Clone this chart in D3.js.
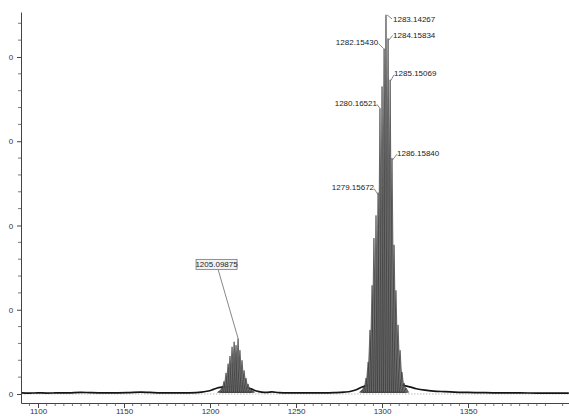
<!DOCTYPE html>
<html><head><meta charset="utf-8">
<script src="https://cdn.jsdelivr.net/npm/d3@7"></script>
<style>
body{margin:0;background:#fff}
svg{display:block}
text{font-family:"Liberation Sans",Arial,sans-serif}
</style>
</head><body>
<svg id="c" width="569" height="416"></svg>
<script>
// ---------- data ----------
const xTickValues = [1100, 1150, 1200, 1250, 1300, 1350];
const xTickLabels = ["1100", "1150", "1200", "1250", "1300", "1350"];
const yTickValues = [0, 1, 2, 3, 4];
const yTickLabels = ["0", "0", "0", "0", "0"];

// main isotope cluster (axis position, intensity)
const bigMz  = [1288.4, 1289.5, 1290.7, 1291.9, 1293.0, 1294.2, 1295.3, 1296.5, 1297.7, 1298.8, 1300.0, 1301.2,
                1302.3, 1303.5, 1304.7, 1305.8, 1307.0, 1308.1, 1309.3, 1310.5, 1311.6, 1312.8, 1314.0];
const bigInt = [0.05, 0.09, 0.19, 0.38, 0.76, 1.29, 1.85, 2.12, 2.39, 3.39, 3.65, 4.10,
                4.50, 4.22, 3.73, 2.80, 1.77, 1.23, 0.82, 0.52, 0.26, 0.13, 0.07];

// small cluster
const smallMz  = [1205.8, 1207.0, 1208.1, 1209.3, 1210.5, 1211.6, 1212.8, 1214.0, 1215.1, 1216.3, 1217.4,
                  1218.6, 1219.8, 1220.9, 1222.1, 1223.3, 1224.4];
const smallInt = [0.04, 0.08, 0.15, 0.25, 0.36, 0.45, 0.56, 0.62, 0.58, 0.66, 0.52,
                  0.40, 0.28, 0.19, 0.12, 0.07, 0.04];

// baseline trace
const baseMz  = [1090.2, 1095, 1100, 1105, 1110, 1118, 1125, 1130, 1138, 1145, 1152, 1160, 1165, 1172, 1180,
                 1188, 1195, 1199, 1202, 1205, 1210, 1215, 1220, 1224, 1227, 1230, 1233, 1236, 1240, 1248,
                 1256, 1264, 1272, 1278, 1282, 1285, 1288, 1291, 1300, 1310, 1313, 1316, 1320, 1325, 1330,
                 1336, 1342, 1350, 1360, 1370, 1380, 1390, 1400, 1408.6];
const baseInt = [0.012, 0.010, 0.013, 0.011, 0.012, 0.014, 0.020, 0.016, 0.012, 0.013, 0.015, 0.022, 0.018, 0.013, 0.012,
                 0.014, 0.022, 0.035, 0.055, 0.075, 0.085, 0.088, 0.080, 0.060, 0.035, 0.022, 0.018, 0.026, 0.016, 0.013,
                 0.012, 0.013, 0.016, 0.022, 0.032, 0.050, 0.080, 0.100, 0.110, 0.112, 0.100, 0.085, 0.062, 0.045, 0.035,
                 0.028, 0.022, 0.018, 0.015, 0.013, 0.012, 0.011, 0.010, 0.010];

// peak labels
const labelTexts  = ["1283.14267", "1284.15834", "1282.15430", "1285.15069", "1280.16521", "1286.15840", "1279.15672", "1205.09875"];
const labelSeries = ["big", "big", "big", "big", "big", "big", "big", "small"];
const labelIndex  = [12, 13, 11, 14, 9, 15, 8, 9];

// ---------- layout / style ----------
const W = 569, H = 416;
const L = 21, R = 569, T = 12, B = 403;
const labelLayout = [
  {dx: 7, dy: 5, anchor: "start", lx0: 1, ly0: 0, lx1: 6, ly1: 4},
  {dx: 5, dy: -3, anchor: "start", lx0: 0.5, ly0: 2, lx1: 4.5, ly1: -3},
  {dx: -6, dy: -6, anchor: "end", lx0: -0.5, ly0: 0, lx1: -5.5, ly1: -5},
  {dx: 4, dy: -6, anchor: "start", lx0: 0.5, ly0: 1, lx1: 4, ly1: -5},
  {dx: -3, dy: -5, anchor: "end", lx0: 0, ly0: 0, lx1: -3, ly1: -4},
  {dx: 5, dy: -5, anchor: "start", lx0: 0.5, ly0: 2, lx1: 5, ly1: -4},
  {dx: -4, dy: -5, anchor: "end", lx0: 0, ly0: 2, lx1: -4, ly1: -4},
  {dx: -21.5, dy: -74, anchor: "middle", box: true, lx0: 0, ly0: 0, lx1: -20, ly1: -69}
];

const svg = d3.select("#c");
svg.append("rect").attr("width", W).attr("height", H).attr("fill", "#fff");

const x = d3.scaleLinear().domain([1090.1, 1408.7]).range([L, R]);
const y = d3.scaleLinear().domain([-0.107, 4.534]).range([B, T]);

// zero line (dotted)
svg.append("line")
  .attr("x1", L).attr("x2", R).attr("y1", y(0)).attr("y2", y(0))
  .attr("stroke", "#aaa").attr("stroke-width", 0.8).attr("stroke-dasharray", "1.5,1.5");

// baseline trace
const baseData = baseMz.map((m, i) => [m, baseInt[i]]);
svg.append("path")
  .datum(baseData)
  .attr("fill", "none").attr("stroke", "#151515").attr("stroke-width", 1.7)
  .attr("d", d3.line().x(d => x(d[0])).y(d => y(d[1])).curve(d3.curveMonotoneX));

// peaks
const halfW = 1.45;
function peaks(mz, inten, cls) {
  const data = mz.map((m, i) => ({m, v: inten[i]}));
  svg.append("g").attr("class", cls).selectAll("path").data(data).join("path")
    .attr("d", d => `M${x(d.m - halfW)},${y(0.02)}L${x(d.m)},${y(d.v)}L${x(d.m + halfW)},${y(0.02)}Z`)
    .attr("fill", "#6a6a6a").attr("fill-opacity", 0.85)
    .attr("stroke", "#2a2a2a").attr("stroke-width", 0.6).attr("stroke-linejoin", "miter");
  return data;
}
const bigData = peaks(bigMz, bigInt, "big");
const smallData = peaks(smallMz, smallInt, "small");

// axes
const xAxis = d3.axisBottom(x).tickValues(xTickValues)
  .tickFormat((d, i) => xTickLabels[i]).tickSize(5).tickSizeOuter(0);
const gx = svg.append("g").attr("transform", `translate(0,${B})`).call(xAxis);
gx.selectAll("text").attr("font-size", 8).attr("fill", "#333").attr("y", 5).attr("dy", "0.71em");
gx.select(".domain").attr("stroke", "#444");
gx.selectAll(".tick line").attr("stroke", "#444");
const minorX = d3.range(1095, 1409, 5).filter(v => v % 50 !== 0);
svg.append("g").selectAll("line").data(minorX).join("line")
  .attr("x1", d => x(d)).attr("x2", d => x(d)).attr("y1", B).attr("y2", B + 3)
  .attr("stroke", "#555").attr("stroke-width", 0.8);

const yAxis = d3.axisLeft(y).tickValues(yTickValues)
  .tickFormat((d, i) => yTickLabels[i]).tickSize(4).tickSizeOuter(0);
const gy = svg.append("g").attr("transform", `translate(${L},0)`).call(yAxis);
gy.selectAll("text").attr("font-size", 8).attr("fill", "#333").attr("dx", "-0.1em");
gy.select(".domain").attr("stroke", "#444");
gy.selectAll(".tick line").attr("stroke", "#444");
const minorY = d3.range(0.2, 4.5, 0.2).filter(v => Math.abs(v - Math.round(v)) > 0.01);
svg.append("g").selectAll("line").data(minorY).join("line")
  .attr("x1", L - 3).attr("x2", L).attr("y1", d => y(d)).attr("y2", d => y(d))
  .attr("stroke", "#555").attr("stroke-width", 0.8);

// labels
labelTexts.forEach((t, i) => {
  const src = labelSeries[i] === "big" ? bigData : smallData;
  const p = src[labelIndex[i]];
  const px = x(p.m), py = y(p.v);
  const lay = labelLayout[i];
  svg.append("line")
    .attr("x1", px + lay.lx0).attr("y1", py + lay.ly0)
    .attr("x2", px + lay.lx1).attr("y2", py + lay.ly1)
    .attr("stroke", "#555").attr("stroke-width", 0.7);
  const tx = px + lay.dx, ty = py + lay.dy;
  if (lay.box) {
    const bw = 41, bh = 10;
    svg.append("rect").attr("x", tx - bw / 2).attr("y", ty - bh / 2).attr("width", bw).attr("height", bh)
      .attr("fill", "#f2f2f2").attr("stroke", "#777").attr("stroke-width", 0.8);
  }
  svg.append("text").attr("x", tx).attr("y", ty)
    .attr("text-anchor", lay.anchor).attr("dominant-baseline", "central")
    .attr("font-size", 8).attr("fill", "#222").text(t);
});
</script>
</body></html>
